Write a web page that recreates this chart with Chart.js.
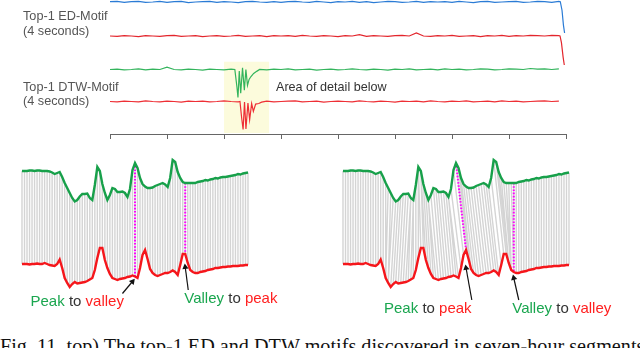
<!DOCTYPE html>
<html lang="en">
<head>
<meta charset="UTF-8">
<title>Top-1 ED / DTW motifs</title>
<script src="https://cdn.jsdelivr.net/npm/chart.js"></script>
<style>
    body {
        margin: 0;
        width: 640px;
        height: 348px;
        overflow: hidden;
        background: #fff;
        position: relative;
        font-family: "Liberation Sans", Arial, sans-serif;
    }
    canvas { position: absolute; }
    .lbl { position: absolute; white-space: nowrap; }
    .yesil { color: #1aa64f; }
    .kirmizi { color: #ff2020; }
    .ara { color: #333; }
</style>
</head>
<body>

<!-- top overview: 4 traces + axis -->
<canvas id="ustGrafik" width="464" height="139" style="left:106px; top:0px;"></canvas>
<!-- bottom left: ED alignment, bottom right: DTW alignment -->
<canvas id="edGrafik" width="234" height="165" style="left:18px; top:145px;"></canvas>
<canvas id="dtwGrafik" width="234" height="165" style="left:339px; top:145px;"></canvas>

<div class="lbl" style="left:23px; top:8.7px; font-size:12.7px; line-height:15.3px; color:#555;">Top-1 ED-Motif<br>(4 seconds)</div>
<div class="lbl" style="left:23px; top:79.6px; font-size:12.7px; line-height:14.6px; color:#555;">Top-1 DTW-Motif<br>(4 seconds)</div>
<div class="lbl" style="left:276px; top:80px; font-size:12.6px; line-height:15.3px; color:#333;">Area of detail below</div>

<div class="lbl" style="left:30.5px; top:291.8px; font-size:15px; line-height:17px;"><span class="yesil">Peak</span> <span class="ara">to</span> <span class="kirmizi">valley</span></div>
<div class="lbl" style="left:184.3px; top:289.3px; font-size:15px; line-height:17px;"><span class="yesil">Valley</span> <span class="ara">to</span> <span class="kirmizi">peak</span></div>
<div class="lbl" style="left:384px; top:299px; font-size:15px; line-height:17px;"><span class="yesil">Peak</span> <span class="ara">to</span> <span class="kirmizi">peak</span></div>
<div class="lbl" style="left:512.3px; top:299px; font-size:15px; line-height:17px;"><span class="yesil">Valley</span> <span class="ara">to</span> <span class="kirmizi">valley</span></div>

<div class="lbl" style="left:0px; top:335.8px; font-family:'Liberation Serif', 'Times New Roman', serif; font-size:20.2px; line-height:20px; color:#111;">Fig. 11. top) The top-1 ED and DTW motifs discovered in seven-hour segments</div>

<script>
    // ---- top panel: 4 traces, coarse samples every 1/8 tick (null = replaced by detail) ----
    var tAdim = 0.125;
    var maviKaba = [0.01, 0.02, -0.01, 0.01, 0.02, -0.01, 0.00, 0.02,
        -0.01, 0.01, 0.02, -0.02, 0.00, 0.01, 0.02, -0.01,
        0.01, 0.00, -0.02, 0.01, 0.02, 0.00, -0.01, 0.01,
        -0.01, 0.01, 0.02, 0.00, -0.01, 0.02, 0.00, -0.02,
        0.01, 0.00, 0.02, -0.01, 0.01, -0.02, 0.00, 0.02,
        0.01, -0.01, 0.00, 0.02, -0.01, 0.01, 0.00, 0.01,
        -0.01, 0.02, 0.00, -0.02, 0.01, 0.02, -0.01, 0.00,
        0.01, 0.02, -0.01, 0.00, 0.02, 0.01, -0.01, 0.02];
    var kirmizi1Kaba = [0.00, -0.01, 0.01, 0.00, -0.02, 0.01, 0.00, -0.01,
        0.01, 0.02, -0.01, 0.00, 0.01, -0.02, 0.00, 0.01,
        -0.01, 0.00, 0.02, -0.01, 0.00, 0.01, -0.02, 0.01,
        0.00, 0.01, -0.01, 0.02, 0.00, -0.01, 0.01, 0.00,
        -0.02, 0.01, 0.00, 0.04, -0.01, 0.01, 0.00, -0.01,
        0.01, 0.02, 0.00, 0.09, 0.00, -0.01, 0.01, 0.00,
        0.02, -0.01, 0.00, 0.01, -0.02, 0.01, 0.00, 0.02,
        -0.01, 0.01, 0.00, 0.02, 0.01, 0.00, 0.02, 0.01];
    var yesil2Kaba = [0.00, 0.01, -0.01, 0.00, 0.02, -0.01, 0.01, 0.00,
        0.07, 0.00, -0.01, 0.01, 0.00, -0.02, 0.01, 0.00,
        -0.01, 0.01, null, null, null, 0.00, -0.01, 0.01,
        0.00, 0.02, -0.01, 0.00, 0.01, -0.02, 0.00, 0.01,
        -0.01, 0.00, 0.02, 0.00, -0.01, 0.01, 0.00, -0.02,
        0.01, 0.00, 0.02, -0.01, 0.00, 0.01, -0.01, 0.02,
        0.00, 0.01, -0.01, 0.00, 0.02, 0.01, -0.01, 0.00,
        0.02, 0.01, 0.00, 0.03, 0.01, 0.02, 0.00, 0.02];
    var kirmizi2Kaba = [0.00, -0.01, 0.01, 0.00, -0.01, 0.02, 0.00, -0.01,
        0.01, 0.00, -0.02, 0.01, 0.00, 0.01, -0.01, 0.00,
        0.02, 0.00, -0.01, null, null, null, 0.01, -0.01,
        0.00, 0.01, 0.02, -0.01, 0.00, 0.01, -0.02, 0.00,
        0.01, 0.00, -0.01, 0.02, 0.00, -0.01, 0.01, 0.00,
        -0.02, 0.01, 0.00, 0.01, -0.01, 0.02, 0.00, -0.01,
        0.01, 0.00, 0.02, -0.01, 0.00, 0.01, -0.01, 0.02,
        0.00, 0.01, -0.01, 0.00, 0.01, 0.02, 0.00, 0.01];

    // fine detail (times in tick units)
    var maviSonT = [7.90, 7.93, 7.955, 7.975];
    var maviSonV = [0.01, -0.25, -0.70, -0.94];
    var kirmizi1SonT = [7.895, 7.92, 7.95, 7.97];
    var kirmizi1SonV = [0.00, -0.20, -0.65, -0.88];
    var yesil2DetayT = [2.19, 2.225, 2.245, 2.268, 2.293, 2.325, 2.357, 2.384, 2.412, 2.44, 2.47, 2.52, 2.58];
    var yesil2DetayV = [0.00, -0.50, -0.85, -0.05, -0.72, 0.05, -0.63, 0.00, -0.48, -0.30, -0.22, -0.12, -0.05];
    var kirmizi2DetayT = [2.28, 2.31, 2.335, 2.36, 2.385, 2.42, 2.45, 2.485, 2.515, 2.555, 2.61, 2.66];
    var kirmizi2DetayV = [0.00, -0.50, -0.85, -0.02, -0.83, -0.05, -0.55, -0.06, -0.30, -0.08, -0.06, -0.02];

    // row offsets of the 4 traces
    var satirKayma = [0, -1.03, -2.045, -3.015];
    // highlighted "area of detail" band
    var vurguT = [2.0, 2.795];
    var vurguY = [-1.81, -3.97];

    // ---- bottom panels: the DTW motif pair, 91 samples ----
    var yesilMotif = [0, 0, 0, 0.05, 0.05, 0, 0.05, 0.05, 0, 0,
        0, -0.05, -0.15, -0.3, -0.2, -0.1, -0.6, -1.2, -1.7, -2.2,
        -2.7, -3.05, -2.9, -2.55, -2.3, -2.3, -2.25, -2.7, -2.9, -1.4,
        0.4, 0, -1.3, -2.2, -2.9, -2.4, -1.7, -1.8, -2.1, -2.1,
        -2.05, -2.2, -2.6, -1.8, 0.1, 0.8, 0.3, -0.7, -1.3, -1.55,
        -1.7, -1.7, -1.65, -1.5, -1.4, -1.3, -1.2, -1.35, -1.6, -0.7,
        1.1, 0.9, -0.1, -0.7, -1.1, -1.2, -1.2, -1.2, -1.2, -1.2,
        -1.1, -1.05, -1.0, -0.9, -0.95, -0.85, -0.8, -0.7, -0.75, -0.65,
        -0.6, -0.6, -0.55, -0.5, -0.45, -0.4, -0.3, -0.35, -0.25, -0.2,
        -0.15];
    var kirmiziMotif = [0, 0, 0, -0.05, 0, 0, 0.05, 0, 0, 0.1,
        0, -0.1, -0.15, -0.2, 0, 0.45, -0.4, -1.4, -1.9, -2.3,
        -2.0, -1.8, -1.95, -1.9, -1.85, -1.8, -1.7, -1.55, -1.4, -0.6,
        0.6, 1.6, 1.6, 0.4, -0.4, -1.0, -1.4, -1.5, -1.6, -1.5,
        -1.45, -1.4, -1.3, -1.25, -1.15, -1.25, -1.4, -0.4, 0.9, 1.4,
        0.5, -0.5, -0.9, -1.1, -1.2, -1.1, -1.0, -0.9, -0.9, -0.8,
        -0.65, -0.8, -1.1, -0.1, 1.0, 1.0, 0.1, -0.6, -0.8, -0.9,
        -0.9, -0.8, -0.75, -0.7, -0.6, -0.55, -0.5, -0.4, -0.4, -0.35,
        -0.3, -0.3, -0.25, -0.25, -0.2, -0.2, -0.2, -0.15, -0.15, -0.1,
        -0.1];
    var kirmiziKayma = -9.3;

    // DTW warping path: red index matched to each green index
    var dtwEsleme = [0, 1, 2, 3, 4, 5, 6, 7, 8, 9,
        10, 11, 12, 13, 14, 15, 16, 17, 17, 18,
        18, 19, 20, 21, 22, 23, 24, 26, 28, 29,
        31, 33, 34, 35, 37, 38, 39, 40, 41, 42,
        43, 44, 46, 47, 48, 49, 50, 51, 52, 53,
        54, 55, 56, 57, 58, 59, 60, 61, 62, 63,
        64, 65, 66, 66, 67, 67, 67, 68, 68, 69,
        70, 71, 72, 73, 74, 75, 76, 77, 78, 79,
        80, 81, 82, 83, 84, 85, 86, 87, 88, 89,
        90];

    // highlighted pairs [green index, red index]
    var edVurgu = [[45, 45], [65, 65]];
    var dtwVurgu = [[45, 49], [68, 68]];
    // arrows: red index pointed at, gap below curve, tail dx, tail dy
    var edOklar = [[44, 0.6, -4, -1.2], [65, 1.3, 1.2, -2.3]];
    var dtwOklar = [[49, 1.8, 2.3, -3.2], [68, 0.6, 2, -2.2]];

    // ------------------------------------------------------------------

    function satirNoktalari(kaba, detayT, detayV, kayma) {
        var pts = [];
        for (var i = 0; i < kaba.length; i++) {
            if (kaba[i] !== null) pts.push({ x: i * tAdim, y: kaba[i] + kayma });
        }
        for (var j = 0; j < detayT.length; j++) {
            pts.push({ x: detayT[j], y: detayV[j] + kayma });
        }
        pts.sort(function (a, b) { return a.x - b.x; });
        return pts;
    }

    function cizgi(veri, renk, kalinlik, sira) {
        return {
            data: veri,
            borderColor: renk,
            borderWidth: kalinlik,
            pointRadius: 0,
            fill: false,
            spanGaps: false,
            clip: false,
            order: sira
        };
    }

    var ustVeri = [
        {
            data: [{ x: vurguT[0], y: vurguY[0] }, { x: vurguT[1], y: vurguY[0] }],
            borderWidth: 0,
            pointRadius: 0,
            backgroundColor: '#fcfbdc',
            fill: { value: vurguY[1] },
            order: 10
        },
        cizgi(satirNoktalari(maviKaba, maviSonT, maviSonV, satirKayma[0]), '#2a7bd5', 1.2, 1),
        cizgi(satirNoktalari(kirmizi1Kaba, kirmizi1SonT, kirmizi1SonV, satirKayma[1]), '#e3262d', 1.2, 1),
        cizgi(satirNoktalari(yesil2Kaba, yesil2DetayT, yesil2DetayV, satirKayma[2]), '#33b45c', 1.2, 1),
        cizgi(satirNoktalari(kirmizi2Kaba, kirmizi2DetayT, kirmizi2DetayV, satirKayma[3]), '#ee2f35', 1.2, 1)
    ];

    new Chart(document.getElementById('ustGrafik').getContext('2d'), {
        type: 'line',
        data: { datasets: ustVeri },
        options: {
            responsive: false,
            animation: false,
            events: [],
            layout: { padding: { left: 4, right: 4, top: 0, bottom: 0 } },
            plugins: { legend: { display: false }, tooltip: { enabled: false } },
            scales: {
                x: {
                    type: 'linear',
                    min: 0,
                    max: 8,
                    ticks: { display: false, stepSize: 1 },
                    grid: { drawOnChartArea: false, drawTicks: true, tickLength: 5, color: '#666', lineWidth: 1 },
                    border: { display: true, color: '#666', width: 1 }
                },
                y: { display: false, min: -4, max: 0.06 }
            }
        }
    });

    // connecting lines between green[g] and red[r]
    function baglantilar(esleme) {
        var pts = [];
        for (var g = 0; g < yesilMotif.length; g++) {
            var rSon = esleme ? esleme[g] : g;
            var rIlk = g === 0 ? rSon : Math.min((esleme ? esleme[g - 1] : g - 1) + 1, rSon);
            for (var r = rIlk; r <= rSon; r++) {
                pts.push({ x: g, y: yesilMotif[g] });
                pts.push({ x: r, y: kirmiziMotif[r] + kirmiziKayma });
                pts.push({ x: g, y: null });
            }
        }
        return pts;
    }

    function vurguCizgileri(ciftler) {
        var pts = [];
        ciftler.forEach(function (c) {
            pts.push({ x: c[0], y: yesilMotif[c[0]] });
            pts.push({ x: c[1], y: kirmiziMotif[c[1]] + kirmiziKayma });
            pts.push({ x: c[0], y: null });
        });
        return pts;
    }

    function okVerisi(ok) {
        var basY = kirmiziMotif[ok[0]] + kirmiziKayma - ok[1];
        return {
            data: [{ x: ok[0] + ok[2], y: basY + ok[3] }, { x: ok[0], y: basY }],
            borderColor: '#111',
            borderWidth: 1.2,
            pointRadius: [0, 3.6],
            pointStyle: 'triangle',
            pointBackgroundColor: '#111',
            pointBorderWidth: 0,
            pointRotation: function (ctx) {
                var d = ctx.dataset.data;
                var sx = ctx.chart.scales.x, sy = ctx.chart.scales.y;
                var dx = sx.getPixelForValue(d[1].x) - sx.getPixelForValue(d[0].x);
                var dy = sy.getPixelForValue(d[1].y) - sy.getPixelForValue(d[0].y);
                return Math.atan2(dx, -dy) * 180 / Math.PI;
            },
            fill: false,
            clip: false,
            order: 0
        };
    }

    function hizalamaGrafigi(id, esleme, ciftler, oklar) {
        var yesilVeri = yesilMotif.map(function (v, i) { return { x: i, y: v }; });
        var kirmiziVeri = kirmiziMotif.map(function (v, i) { return { x: i, y: v + kirmiziKayma }; });
        var setler = [
            cizgi(baglantilar(esleme), '#d4d4d4', 1.4, 5),
            Object.assign(cizgi(vurguCizgileri(ciftler), '#ff00ff', 2, 3), { borderDash: [1.6, 1.6] }),
            cizgi(yesilVeri, '#17a04a', 2.4, 1),
            cizgi(kirmiziVeri, '#f5161b', 2.4, 1)
        ];
        oklar.forEach(function (o) { setler.push(okVerisi(o)); });

        new Chart(document.getElementById(id).getContext('2d'), {
            type: 'line',
            data: { datasets: setler },
            options: {
                responsive: false,
                animation: false,
                events: [],
                layout: { padding: { left: 4, right: 4, top: 4, bottom: 14 } },
                plugins: { legend: { display: false }, tooltip: { enabled: false } },
                scales: {
                    x: { type: 'linear', display: false, min: 0, max: 90 },
                    y: { display: false, min: -12.5, max: 2.2 }
                }
            }
        });
    }

    hizalamaGrafigi('edGrafik', null, edVurgu, edOklar);
    hizalamaGrafigi('dtwGrafik', dtwEsleme, dtwVurgu, dtwOklar);
</script>
</body>
</html>
